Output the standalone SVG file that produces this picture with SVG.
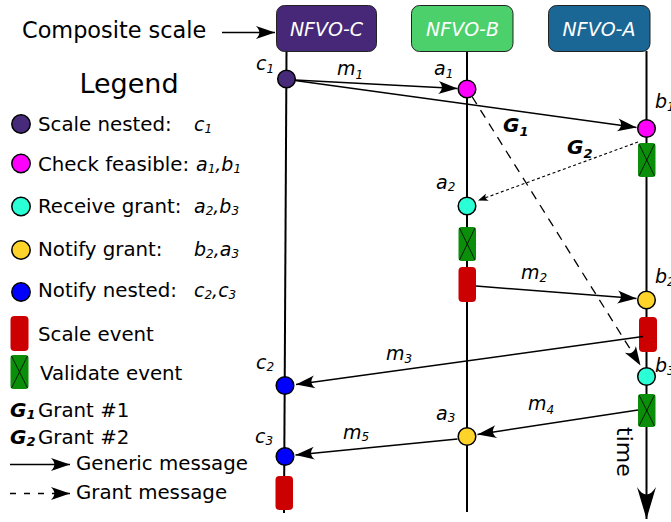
<svg xmlns="http://www.w3.org/2000/svg" width="671" height="522" viewBox="0 0 671 522">
<style>
text{font-family:"DejaVu Sans","Liberation Sans",sans-serif;fill:#000}
.hd{font-size:19px;font-style:italic;fill:#fff;text-anchor:middle}
.lg{font-size:19.8px}
.it{font-size:19px;font-style:italic}
.sb{font-size:12px;font-style:italic}
.g{font-size:20px;font-style:italic;font-weight:bold}
.gs{font-size:13px;font-style:italic;font-weight:bold}
.life{stroke:#000;stroke-width:2;fill:none}
.ev{stroke:#000;stroke-width:1.5}
.msg{stroke:#000;stroke-width:1.5;fill:none;marker-end:url(#ah)}
.grant{stroke:#000;stroke-width:1.3;fill:none;stroke-dasharray:9,7;marker-end:url(#ah)}
.grant2{stroke:#000;stroke-width:1.1;fill:none;stroke-dasharray:3,2.5;marker-end:url(#ahs)}
.scale{fill:#cc0000}
.val{fill:#0b8f0b}
.x{stroke:#000;stroke-width:0.8}
.purple{fill:#472a79}.mag{fill:#ff00ff}.aqua{fill:#2affd5}.yel{fill:#ffd42a}.blu{fill:#0000ff}
</style>
<defs>
<marker id="ah" markerUnits="userSpaceOnUse" viewBox="-21 -8 22 16" refX="0" refY="0" markerWidth="22" markerHeight="16" orient="auto" overflow="visible">
<path d="M0,0 L-19,-6.5 C-14.5,-2 -14.5,2 -19,6.5 Z" fill="#000"/>
</marker>
<marker id="ahs" markerUnits="userSpaceOnUse" viewBox="-11 -5 12 10" refX="0" refY="0" markerWidth="12" markerHeight="10" orient="auto" overflow="visible">
<path d="M0,0 L-10,-3.8 C-7.5,-1 -7.5,1 -10,3.8 Z" fill="#000"/>
</marker>
<marker id="ahb" markerUnits="userSpaceOnUse" viewBox="-33 -11 34 22" refX="0" refY="0" markerWidth="34" markerHeight="22" orient="auto" overflow="visible">
<path d="M0,0 L-32,-9.5 C-22,-3 -22,3 -32,9.5 Z" fill="#000"/>
</marker>
</defs>
<rect width="671" height="522" fill="#fff"/>

<!-- Composite scale -->
<g id="composite">
<text x="22" y="38" style="font-size:22.4px">Composite scale</text>
<line x1="222" y1="32.5" x2="275" y2="32.5" class="msg"/>
</g>

<!-- Legend -->
<g id="legend">
<text x="129" y="93" style="font-size:27px" text-anchor="middle">Legend</text>
<circle cx="21" cy="124" r="9.2" class="ev purple"/>
<text x="38" y="131" class="lg">Scale nested:</text>
<text x="194" y="131" class="it">c<tspan class="sb" dy="2">1</tspan></text>
<circle cx="21" cy="163.5" r="9.2" class="ev mag"/>
<text x="38" y="171" class="lg">Check feasible:</text>
<text x="196" y="171" class="it">a<tspan class="sb" dy="2">1</tspan><tspan dy="-2">,b</tspan><tspan class="sb" dy="2">1</tspan></text>
<circle cx="21" cy="206.5" r="9.2" class="ev aqua"/>
<text x="38" y="213" class="lg">Receive grant:</text>
<text x="194" y="213" class="it">a<tspan class="sb" dy="2">2</tspan><tspan dy="-2">,b</tspan><tspan class="sb" dy="2">3</tspan></text>
<circle cx="21" cy="250" r="9.2" class="ev yel"/>
<text x="38" y="256" class="lg">Notify grant:</text>
<text x="194" y="256" class="it">b<tspan class="sb" dy="2">2</tspan><tspan dy="-2">,a</tspan><tspan class="sb" dy="2">3</tspan></text>
<circle cx="21" cy="292" r="9.2" class="ev blu"/>
<text x="38" y="297" class="lg">Notify nested:</text>
<text x="194" y="297" class="it">c<tspan class="sb" dy="2">2</tspan><tspan dy="-2">,c</tspan><tspan class="sb" dy="2">3</tspan></text>
<rect x="10.5" y="316" width="18" height="35" rx="4" class="scale"/>
<text x="38" y="341" class="lg">Scale event</text>
<rect x="10.5" y="355" width="18" height="34" rx="3" class="val"/>
<line x1="11.5" y1="356" x2="27.5" y2="388" class="x"/>
<line x1="27.5" y1="356" x2="11.5" y2="388" class="x"/>
<text x="40" y="380" class="lg">Validate event</text>
<text x="10" y="417" class="g">G<tspan class="gs" dy="2">1</tspan></text>
<text x="38" y="417" class="lg">Grant #1</text>
<text x="10" y="444" class="g">G<tspan class="gs" dy="2">2</tspan></text>
<text x="38" y="444" class="lg">Grant #2</text>
<line x1="10" y1="464.5" x2="70" y2="464.5" class="msg"/>
<text x="76" y="470" class="lg">Generic message</text>
<line x1="10" y1="493.5" x2="70" y2="493.5" class="msg" style="stroke-dasharray:6,8"/>
<text x="76" y="499" class="lg">Grant message</text>
</g>

<!-- Lifelines -->
<g id="lifelines">
<line x1="286.5" y1="51" x2="284" y2="513" class="life"/>
<line x1="467" y1="51" x2="467" y2="512" class="life"/>
<line x1="646.5" y1="51" x2="646.5" y2="519" class="life" style="marker-end:url(#ahb)"/>
<text transform="translate(617,427) rotate(90)" style="font-size:22px">time</text>
</g>

<!-- Headers -->
<g id="nfvo-c">
<rect x="276.5" y="5.5" width="100" height="46" rx="8" fill="#472878" stroke="#222" stroke-width="1"/>
<text x="326.5" y="36" class="hd">NFVO-C</text>
</g>
<g id="nfvo-b">
<rect x="411.5" y="5.5" width="101.5" height="46" rx="8" fill="#4bd06b" stroke="#222" stroke-width="1"/>
<text x="462.5" y="36" class="hd">NFVO-B</text>
</g>
<g id="nfvo-a">
<rect x="548.5" y="5.5" width="101.5" height="46" rx="8" fill="#1a6694" stroke="#222" stroke-width="1"/>
<text x="599" y="36" class="hd">NFVO-A</text>
</g>

<!-- Events -->
<g id="c1"><circle cx="286.5" cy="79" r="8.8" class="ev purple"/>
<text x="256" y="70" class="it">c<tspan class="sb" dy="3">1</tspan></text></g>
<g id="a1"><circle cx="467" cy="89" r="8.8" class="ev mag"/>
<text x="434" y="75" class="it">a<tspan class="sb" dy="3">1</tspan></text></g>
<g id="b1"><circle cx="646.5" cy="128.5" r="8.8" class="ev mag"/>
<text x="655" y="108" class="it">b<tspan class="sb" dy="3">1</tspan></text></g>
<g id="valA1"><rect x="638" y="143" width="17.5" height="34" rx="3" class="val"/>
<line x1="639" y1="144" x2="654.5" y2="176" class="x"/><line x1="654.5" y1="144" x2="639" y2="176" class="x"/></g>
<g id="a2"><circle cx="467" cy="206" r="8.8" class="ev aqua"/>
<text x="436" y="189" class="it">a<tspan class="sb" dy="2">2</tspan></text></g>
<g id="valB"><rect x="458.5" y="227" width="17.5" height="34" rx="3" class="val"/>
<line x1="459.5" y1="228" x2="475" y2="260" class="x"/><line x1="475" y1="228" x2="459.5" y2="260" class="x"/></g>
<g id="scaleB"><rect x="458.5" y="267" width="17.5" height="35" rx="4" class="scale"/></g>
<g id="b2"><circle cx="646.5" cy="300" r="8.8" class="ev yel"/>
<text x="655" y="283" class="it">b<tspan class="sb" dy="3">2</tspan></text></g>
<g id="scaleA"><rect x="639" y="317" width="18" height="35" rx="4" class="scale"/></g>
<g id="b3"><circle cx="646.5" cy="376.5" r="8.8" class="ev aqua"/>
<text x="655" y="372" class="it">b<tspan class="sb" dy="3">3</tspan></text></g>
<g id="valA2"><rect x="638" y="394" width="17.5" height="33" rx="3" class="val"/>
<line x1="639" y1="395" x2="654.5" y2="426" class="x"/><line x1="654.5" y1="395" x2="639" y2="426" class="x"/></g>
<g id="c2"><circle cx="285" cy="385.5" r="8.8" class="ev blu"/>
<text x="256" y="369" class="it">c<tspan class="sb" dy="2">2</tspan></text></g>
<g id="a3"><circle cx="467" cy="436.5" r="8.8" class="ev yel"/>
<text x="436" y="420" class="it">a<tspan class="sb" dy="2">3</tspan></text></g>
<g id="c3"><circle cx="285" cy="456.5" r="8.8" class="ev blu"/>
<text x="255" y="443" class="it">c<tspan class="sb" dy="2">3</tspan></text></g>
<g id="scaleC"><rect x="275.5" y="476" width="17.5" height="34" rx="4" class="scale"/></g>

<!-- Connectors -->
<g id="connectors">
<line x1="295" y1="80" x2="457.5" y2="88.5" class="msg"/>
<line x1="295" y1="80.5" x2="636.5" y2="127.5" class="msg"/>
<line x1="472" y1="96.5" x2="640.5" y2="365.5" class="grant"/>
<line x1="638" y1="142" x2="478" y2="200.5" class="grant2"/>
<line x1="476" y1="286" x2="636.5" y2="298.5" class="msg"/>
<line x1="643" y1="336.5" x2="296" y2="384.5" class="msg"/>
<line x1="638" y1="410" x2="477.5" y2="434.5" class="msg"/>
<line x1="457.5" y1="439" x2="295.5" y2="455" class="msg"/>
<text x="337" y="75" class="it">m<tspan class="sb" dy="4">1</tspan></text>
<text x="503" y="132" class="g">G<tspan class="gs" dy="4">1</tspan></text>
<text x="567" y="154" class="g">G<tspan class="gs" dy="4">2</tspan></text>
<text x="521" y="279" class="it">m<tspan class="sb" dy="3">2</tspan></text>
<text x="386" y="360" class="it">m<tspan class="sb" dy="3">3</tspan></text>
<text x="528" y="410" class="it">m<tspan class="sb" dy="4">4</tspan></text>
<text x="343" y="439" class="it">m<tspan class="sb" dy="2">5</tspan></text>
</g>
</svg>
